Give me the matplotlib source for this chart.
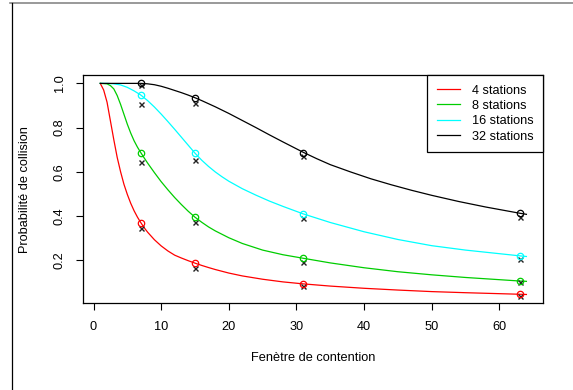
import matplotlib
matplotlib.use('Agg')
import matplotlib.pyplot as plt
from matplotlib.lines import Line2D

plt.rcParams['font.family'] = ['Liberation Sans', 'DejaVu Sans']

# curves (contention window -> collision probability)
x_red = [1, 1.5, 2, 2.5, 3, 3.5, 4, 4.5, 5, 5.5, 6, 6.5, 7, 7.5, 8, 9, 10, 11, 12, 13, 14,
         15, 16, 17, 18, 20, 22, 25, 28, 31, 35, 40, 45, 50, 55, 63, 64]
y_red = [1.0, 0.97, 0.915, 0.83, 0.745, 0.665, 0.60, 0.543, 0.497, 0.457, 0.423, 0.394,
         0.369, 0.346, 0.326, 0.292, 0.264, 0.241, 0.222, 0.209, 0.197, 0.186, 0.1755,
         0.166, 0.157, 0.141, 0.128, 0.113, 0.101, 0.092, 0.082, 0.072, 0.064, 0.057,
         0.052, 0.045, 0.044]

x_green = [1, 2, 2.5, 3, 3.5, 4, 4.5, 5, 5.5, 6, 6.5, 7, 7.5, 8, 9, 10, 11, 12, 13, 14, 15,
           16, 17, 18, 20, 22, 25, 28, 31, 35, 40, 45, 50, 55, 63, 64]
y_green = [1.0, 0.998, 0.99, 0.975, 0.945, 0.905, 0.86, 0.815, 0.775, 0.74, 0.711, 0.686,
           0.662, 0.639, 0.596, 0.555, 0.518, 0.483, 0.451, 0.421, 0.394, 0.371, 0.350,
           0.332, 0.301, 0.275, 0.245, 0.224, 0.208, 0.187, 0.165, 0.147, 0.133, 0.121,
           0.105, 0.1035]

x_cyan = [1, 2, 3, 4, 5, 6, 7, 8, 9, 10, 11, 12, 13, 14, 15, 16, 17, 18, 19, 20, 22, 24,
          26, 28, 31, 35, 40, 45, 50, 55, 63, 64]
y_cyan = [1.0, 1.0, 0.998, 0.993, 0.982, 0.966, 0.947, 0.922, 0.893, 0.861, 0.827, 0.792,
          0.756, 0.72, 0.684, 0.652, 0.624, 0.599, 0.577, 0.557, 0.523, 0.494, 0.467,
          0.443, 0.409, 0.370, 0.328, 0.293, 0.265, 0.245, 0.219, 0.216]

x_black = [1, 2, 3, 4, 5, 6, 7, 8, 9, 10, 11, 12, 13, 14, 15, 16, 17, 18, 19, 20, 22, 24,
           26, 28, 31, 33, 35, 38, 41, 44, 47, 50, 54, 58, 63, 64]
y_black = [1.0, 1.0, 1.0, 1.0, 1.0, 1.0, 1.0, 0.998, 0.994, 0.987, 0.978, 0.968, 0.958,
           0.947, 0.935, 0.922, 0.908, 0.894, 0.879, 0.864, 0.832, 0.800, 0.767, 0.735,
           0.688, 0.659, 0.632, 0.599, 0.568, 0.541, 0.516, 0.493, 0.465, 0.440, 0.412,
           0.407]

# measured points
w_pts = [7, 15, 31, 63]
circ_red = [0.369, 0.186, 0.092, 0.045]
circ_green = [0.686, 0.394, 0.208, 0.105]
circ_cyan = [0.947, 0.683, 0.407, 0.219]
circ_black = [1.0, 0.935, 0.685, 0.412]
cross_red = [0.344, 0.166, 0.083, 0.039]
cross_green = [0.645, 0.371, 0.193, 0.100]
cross_cyan = [0.906, 0.653, 0.389, 0.205]
cross_black = [0.992, 0.912, 0.671, 0.396]

labels = ['4 stations', '8 stations', '16 stations', '32 stations']
colors = ['#FF0000', '#00CD00', '#00FFFF', '#000000']

fig = plt.figure(figsize=(5.73, 3.90), dpi=100)
ax = fig.add_axes([0.1449, 0.2223, 0.8033, 0.5854])

curves = [(x_red, y_red), (x_green, y_green), (x_cyan, y_cyan), (x_black, y_black)]
for (xs, ys), c, lab in zip(curves, colors, labels):
    ax.plot(xs, ys, color=c, lw=0.9, label=lab)

circles = [circ_red, circ_green, circ_cyan, circ_black]
crosses = [cross_red, cross_green, cross_cyan, cross_black]
for circ, cr, c in zip(circles, crosses, colors):
    ax.plot(w_pts, cr, ls='none', marker='x', ms=3.6, mew=1.0, color='#222222')
    ax.plot(w_pts, circ, ls='none', marker='o', ms=4.6, mew=0.9, mfc='none', mec=c)

ax.set_xlim(-1.55, 66.5)
ax.set_ylim(0.004, 1.038)
ax.set_xticks([0, 10, 20, 30, 40, 50, 60])
ax.set_yticks([0.2, 0.4, 0.6, 0.8, 1.0])
ax.set_yticklabels(['0.2', '0.4', '0.6', '0.8', '1.0'], rotation=90, va='center')
ax.tick_params(direction='out', length=5, width=0.8, labelsize=9.2, pad=7.5)
for s in ax.spines.values():
    s.set_linewidth(0.9)

ax.set_xlabel('Fenètre de contention', fontsize=9.2)
ax.set_ylabel('Probabilité de collision', fontsize=9.2)
ax.xaxis.set_label_coords(0.5, -0.213)
ax.yaxis.set_label_coords(-0.113, 0.5)

leg = ax.legend(loc='upper right', bbox_to_anchor=(1, 1), borderaxespad=0,
                fancybox=False, frameon=True, edgecolor='black', framealpha=1,
                fontsize=9.2, handlelength=1.8, handletextpad=0.97,
                labelspacing=0.26, borderpad=0.75)
leg.get_frame().set_linewidth(0.9)

# partial frame of the original page
fig.add_artist(Line2D([0.0175, 1.0], [0.993, 0.993], transform=fig.transFigure,
                      color='#888888', lw=1.2))
fig.add_artist(Line2D([0.0218, 0.0218], [0.0, 0.993], transform=fig.transFigure,
                      color='black', lw=0.9))

fig.savefig('out.png', dpi=100)
